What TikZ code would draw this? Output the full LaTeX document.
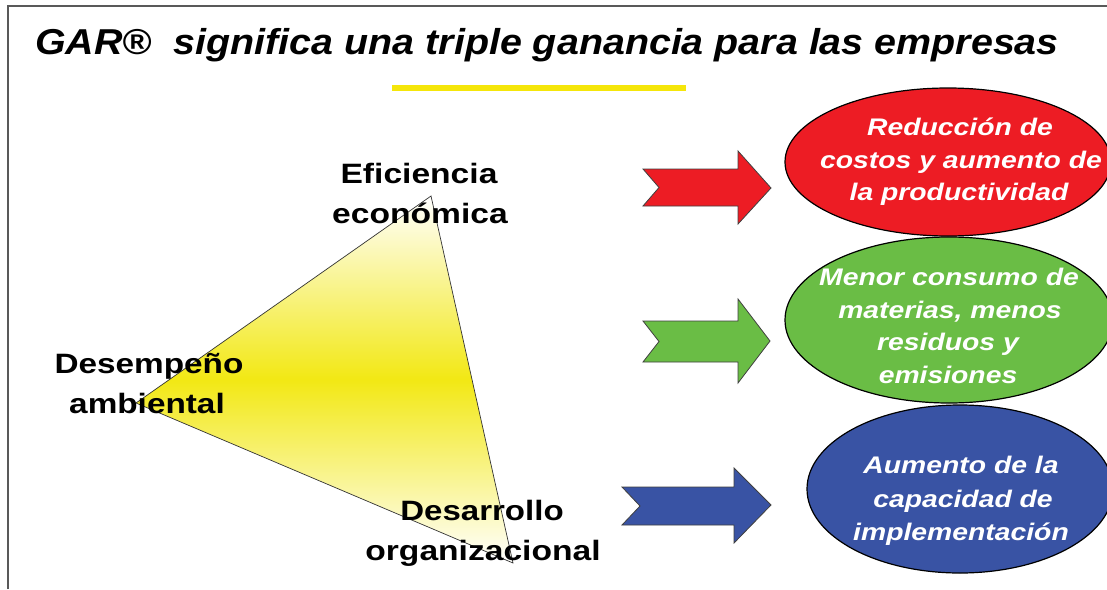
\documentclass[tikz,border=0pt]{standalone}
\usepackage{fontspec}
\setmainfont{Liberation Sans}
\definecolor{gyellow}{RGB}{242,232,20}
\definecolor{tyellow}{RGB}{245,230,10}
\definecolor{ered}{RGB}{237,28,36}
\definecolor{egreen}{RGB}{106,189,69}
\definecolor{eblue}{RGB}{57,83,164}
\newcommand{\hsq}[2]{\scalebox{#1}[1]{#2}}
\begin{document}
\begin{tikzpicture}[x=1pt,y=-1pt,
  lbl/.style={anchor=base, inner sep=0pt, font=\fontsize{28}{30}\selectfont\bfseries},
  etxt/.style={anchor=base, inner sep=0pt, text=white, font=\fontsize{24}{26}\selectfont\bfseries\itshape},
  arr/.style={draw=black!75, line width=0.8pt},
  ell/.style={draw=black, line width=1.2pt}]
\useasboundingbox (0,0) rectangle (1107,589);
\fill[white] (0,0) rectangle (1107,589);
\draw[black!65, line width=1.6pt] (8,589) -- (8,6) -- (1107,6);

% title
\node[anchor=base west, inner sep=0pt, font=\fontsize{36}{40}\selectfont\bfseries\itshape] (title) at (35,54) {\hsq{1.095}{GAR®~ significa una triple ganancia para las empresas}};
\fill[tyellow] (392,85) rectangle (686,91);

% triangle
\coordinate (L) at (136,403);
\coordinate (T) at (431,196);
\coordinate (B) at (513,563);
\shade[top color=white, bottom color=white, middle color=gyellow] (L) -- (T) -- (B) -- cycle;
\draw[black!80, line width=0.7pt] (L) -- (T) -- (B) -- cycle;

% labels
\node[lbl] (ef1) at (419,183) {\hsq{1.2}{Eficiencia}};
\node[lbl] (ef2) at (420,223) {\hsq{1.2}{económica}};
\node[lbl] (de1) at (149,373) {\hsq{1.19}{Desempeño}};
\node[lbl] (de2) at (147,413) {\hsq{1.19}{ambiental}};
\node[lbl] (do1) at (482,520) {\hsq{1.18}{Desarrollo}};
\node[lbl] (do2) at (483,560) {\hsq{1.2}{organizacional}};

% arrows
\filldraw[arr, fill=ered] (643,169) -- (738,169) -- (738,151) -- (771,188) -- (738,224) -- (738,206) -- (643,206) -- (659,187.5) -- cycle;
\filldraw[arr, fill=egreen] (643,321) -- (738,321) -- (738,299) -- (770,341) -- (738,383) -- (738,362) -- (643,362) -- (659,341.5) -- cycle;
\filldraw[arr, fill=eblue] (622,487) -- (734,487) -- (734,468) -- (771,505) -- (734,543) -- (734,525) -- (622,525) -- (640,506) -- cycle;

% ellipses
\filldraw[ell, fill=ered] (948,162) ellipse [x radius=163pt, y radius=74pt];
\filldraw[ell, fill=egreen] (949,320) ellipse [x radius=164pt, y radius=83pt];
\filldraw[ell, fill=eblue] (960,489) ellipse [x radius=153pt, y radius=84pt];

\node[etxt] (r1) at (960,135) {\hsq{1.18}{Reducción de}};
\node[etxt] (r2) at (961,168) {\hsq{1.18}{costos y aumento de}};
\node[etxt] (r3) at (959,200) {\hsq{1.18}{la productividad}};

\node[etxt] (g1) at (949,285) {\hsq{1.18}{Menor consumo de}};
\node[etxt] (g2) at (950,318) {\hsq{1.18}{materias, menos}};
\node[etxt] (g3) at (948,350) {\hsq{1.18}{residuos y}};
\node[etxt] (g4) at (948,383) {\hsq{1.18}{emisiones}};

\node[etxt] (b1) at (961,473) {\hsq{1.18}{Aumento de la}};
\node[etxt] (b2) at (963,507) {\hsq{1.18}{capacidad de}};
\node[etxt] (b3) at (961,540) {\hsq{1.18}{implementación}};
\end{tikzpicture}
\end{document}
